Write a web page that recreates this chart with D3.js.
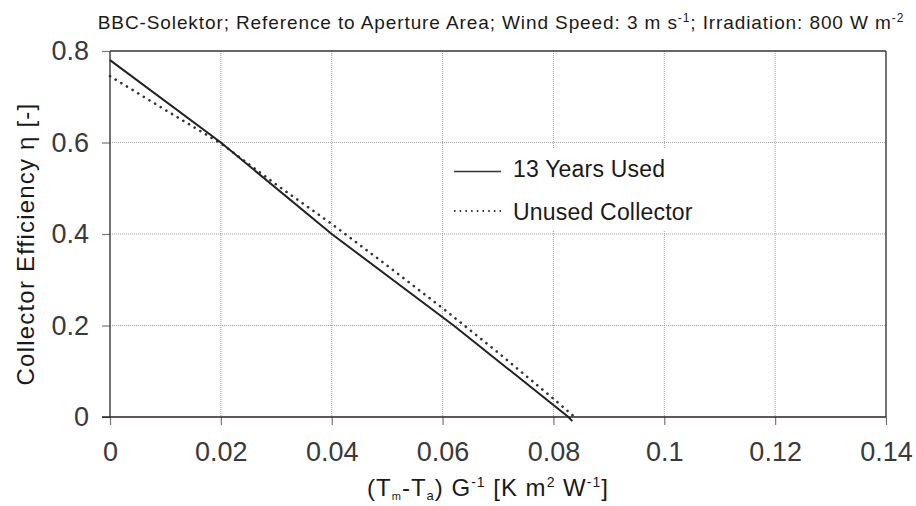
<!DOCTYPE html>
<html>
<head>
<meta charset="utf-8">
<script src="https://cdn.jsdelivr.net/npm/d3@7"></script>
<style>
  html, body { margin: 0; padding: 0; background: #fff; }
  svg { display: block; font-family: "Liberation Sans", Arial, sans-serif; }
</style>
</head>
<body>
<svg id="chart" width="916" height="506"></svg>
<script>
// values
const usedX = [0, 0.02, 0.04, 0.062, 0.0827, 0.0834]
const usedY = [0.78, 0.6, 0.4, 0.2, 0, -0.009]

const unusedX = [0, 0.01, 0.02, 0.03, 0.04, 0.05, 0.06, 0.07, 0.08, 0.0843]
const unusedY = [0.745, 0.671, 0.598, 0.508, 0.422, 0.331, 0.238, 0.141, 0.04, -0.005]

const xTicks = [0, 0.02, 0.04, 0.06, 0.08, 0.1, 0.12, 0.14]
const xTickLabels = ["0", "0.02", "0.04", "0.06", "0.08", "0.1", "0.12", "0.14"]
const yTicks = [0, 0.2, 0.4, 0.6, 0.8]
const yTickLabels = ["0", "0.2", "0.4", "0.6", "0.8"]

const legendLabels = ["13 Years Used", "Unused Collector"]

const margin = { top: 51, right: 30, bottom: 89, left: 110 }
const width = 916 - margin.left - margin.right
const height = 506 - margin.top - margin.bottom

const svg = d3.select("#chart")
const g = svg.append("g").attr("transform", `translate(${margin.left},${margin.top})`)

const x = d3.scaleLinear().domain([0, 0.14]).range([0, width])
const y = d3.scaleLinear().domain([0, 0.8]).range([height, 0])

// grid
g.append("g")
  .selectAll("line")
  .data(xTicks.slice(1, -1))
  .join("line")
  .attr("x1", d => x(d)).attr("x2", d => x(d))
  .attr("y1", 0).attr("y2", height)
  .attr("stroke", "#a0a0a0")
  .attr("stroke-width", 1)
  .attr("stroke-dasharray", "1,1")

g.append("g")
  .selectAll("line")
  .data(yTicks.slice(1, -1))
  .join("line")
  .attr("x1", 0).attr("x2", width)
  .attr("y1", d => y(d)).attr("y2", d => y(d))
  .attr("stroke", "#a0a0a0")
  .attr("stroke-width", 1)
  .attr("stroke-dasharray", "1,1")

// axes
const xAxis = g.append("g")
  .attr("transform", `translate(0,${height})`)
  .call(d3.axisBottom(x).tickValues(xTicks)
    .tickFormat((d, i) => xTickLabels[i]).tickSize(8).tickPadding(17))
xAxis.select(".domain").remove()
xAxis.selectAll(".tick line").attr("stroke", "#777").attr("stroke-width", 1.2)
xAxis.selectAll("text")
  .attr("font-size", 27).attr("fill", "#3a3a3a")
  .attr("font-family", "'Liberation Sans', Arial, sans-serif")

const yAxis = g.append("g")
  .call(d3.axisLeft(y).tickValues(yTicks)
    .tickFormat((d, i) => yTickLabels[i]).tickSize(8).tickPadding(13))
yAxis.select(".domain").remove()
yAxis.selectAll(".tick line").attr("stroke", "#777").attr("stroke-width", 1.2)
yAxis.selectAll("text")
  .attr("font-size", 27).attr("fill", "#3a3a3a")
  .attr("font-family", "'Liberation Sans', Arial, sans-serif")

// frame
g.append("line").attr("x1", 0).attr("x2", width).attr("y1", 0).attr("y2", 0)
  .attr("stroke", "#333").attr("stroke-width", 1.5)
g.append("line").attr("x1", width).attr("x2", width).attr("y1", 0).attr("y2", height)
  .attr("stroke", "#444").attr("stroke-width", 1.5)
g.append("line").attr("x1", 0).attr("x2", 0).attr("y1", 0).attr("y2", height)
  .attr("stroke", "#444").attr("stroke-width", 1.5)
g.append("line").attr("x1", -8).attr("x2", width).attr("y1", y(0)).attr("y2", y(0))
  .attr("stroke", "#2a2220").attr("stroke-width", 1.6)

// curves
const line = d3.line().x(d => x(d[0])).y(d => y(d[1]))

g.append("path")
  .datum(unusedX.map((v, i) => [v, unusedY[i]]))
  .attr("d", line)
  .attr("fill", "none")
  .attr("stroke", "#333")
  .attr("stroke-width", 2.6)
  .attr("stroke-linecap", "round")
  .attr("stroke-dasharray", "0.1,6.5")

g.append("path")
  .datum(usedX.map((v, i) => [v, usedY[i]]))
  .attr("d", line)
  .attr("fill", "none")
  .attr("stroke", "#222")
  .attr("stroke-width", 2)

// legend
const legend = svg.append("g").attr("transform", "translate(448,149)")
legend.append("rect")
  .attr("width", 282).attr("height", 82).attr("fill", "#fff")

legendLabels.forEach((label, i) => {
  legend.append("line")
    .attr("x1", 6).attr("x2", 53)
    .attr("y1", 22.5 + i * 39.5).attr("y2", 22.5 + i * 39.5)
    .attr("stroke", "#333")
    .attr("stroke-width", i === 0 ? 1.6 : 2)
    .attr("stroke-dasharray", i === 0 ? null : "1.5,4.2")
  legend.append("text")
    .attr("x", 65).attr("y", 28 + i * 43)
    .attr("font-size", 23).attr("letter-spacing", 0.2).attr("fill", "#1a1a1a")
    .text(label)
})

// title
const title = svg.append("text")
  .attr("x", 501).attr("y", 29)
  .attr("text-anchor", "middle")
  .attr("font-size", 19).attr("letter-spacing", 0.9).attr("fill", "#1a1a1a")
title.append("tspan").text("BBC-Solektor; Reference to Aperture Area; Wind Speed: 3 m s")
title.append("tspan").attr("dy", -7).attr("font-size", 12).text("-1")
title.append("tspan").attr("dy", 7).text("; Irradiation: 800 W m")
title.append("tspan").attr("dy", -7).attr("font-size", 12).text("-2")

// x label
const xl = svg.append("text")
  .attr("x", 488).attr("y", 496)
  .attr("text-anchor", "middle")
  .attr("font-size", 24).attr("letter-spacing", 1).attr("fill", "#1a1a1a")
xl.append("tspan").text("(T")
xl.append("tspan").attr("dy", 4).attr("font-size", 11).text("m")
xl.append("tspan").attr("dy", -4).text("-T")
xl.append("tspan").attr("dy", 4).attr("font-size", 13).text("a")
xl.append("tspan").attr("dy", -4).text(") G")
xl.append("tspan").attr("dy", -9).attr("font-size", 14).text("-1")
xl.append("tspan").attr("dy", 9).text(" [K m")
xl.append("tspan").attr("dy", -9).attr("font-size", 14).text("2")
xl.append("tspan").attr("dy", 9).text(" W")
xl.append("tspan").attr("dy", -9).attr("font-size", 14).text("-1")
xl.append("tspan").attr("dy", 9).text("]")

// y label
svg.append("text")
  .attr("transform", "translate(34,244) rotate(-90)")
  .attr("text-anchor", "middle")
  .attr("font-size", 24).attr("letter-spacing", 1.2).attr("fill", "#1a1a1a")
  .text("Collector Efficiency η [-]")
</script>
</body>
</html>
